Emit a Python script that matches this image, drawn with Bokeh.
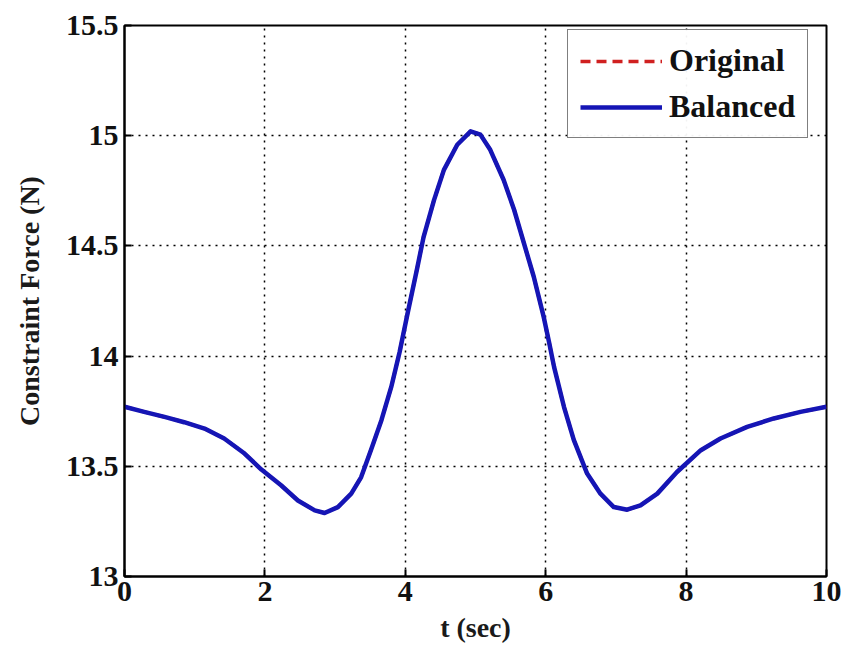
from bokeh.plotting import figure
from bokeh.models import Range1d, FixedTicker, Legend, LegendItem
from bokeh.embed import file_html
from bokeh.resources import INLINE

t = [0, 0.28, 0.57, 0.85, 1.14, 1.42, 1.71, 1.95, 2.23, 2.47, 2.71, 2.85, 3.04,
     3.23, 3.37, 3.51, 3.66, 3.80, 3.92, 4.03, 4.17, 4.26, 4.41, 4.55, 4.74, 4.93,
     5.07, 5.21, 5.40, 5.55, 5.69, 5.83, 5.97, 6.05, 6.12, 6.26, 6.40, 6.59, 6.78,
     6.97, 7.16, 7.35, 7.59, 7.87, 8.21, 8.49, 8.87, 9.25, 9.63, 10]
original = [13.770, 13.747, 13.724, 13.700, 13.671, 13.626, 13.558, 13.485, 13.414,
            13.345, 13.300, 13.288, 13.315, 13.376, 13.450, 13.573, 13.709, 13.860,
            14.020, 14.190, 14.400, 14.540, 14.709, 14.845, 14.959, 15.020, 15.005,
            14.936, 14.800, 14.664, 14.512, 14.360, 14.180, 14.060, 13.950, 13.770,
            13.620, 13.467, 13.376, 13.315, 13.303, 13.323, 13.376, 13.474, 13.573,
            13.626, 13.679, 13.717, 13.747, 13.770]
balanced = list(original)

x_ticks = [0, 2, 4, 6, 8, 10]
y_ticks = [13, 13.5, 14, 14.5, 15, 15.5]
y_tick_labels = ["13", "13.5", "14", "14.5", "15", "15.5"]

FONT = "Liberation Serif"

p = figure(width=850, height=659, output_backend="svg", toolbar_location=None,
           x_range=Range1d(0, 10), y_range=Range1d(13, 15.5),
           min_border_left=124, min_border_right=24, min_border_top=25,
           min_border_bottom=83)
p.background_fill_color = "white"
p.border_fill_color = "white"
p.outline_line_color = "black"
p.outline_line_width = 2

r1 = p.line(t, original, line_color="#D02020", line_width=3.5, line_dash="10 6")
r2 = p.line(t, balanced, line_color="#1515B5", line_width=4.5, line_join="round")

for ax in (p.xaxis[0], p.yaxis[0]):
    ax.axis_line_color = "black"
    ax.axis_line_width = 2
    ax.major_tick_in = 7
    ax.major_tick_out = 0
    ax.minor_tick_in = 0
    ax.minor_tick_out = 0
    ax.major_tick_line_width = 2
    ax.major_label_text_font = FONT
    ax.major_label_text_font_style = "bold"
    ax.major_label_text_font_size = "30px"
    ax.major_label_text_color = "#111111"
    ax.axis_label_text_font = FONT
    ax.axis_label_text_font_style = "bold"
    ax.axis_label_text_color = "#1a1a1a"

p.xaxis[0].axis_label_text_font_size = "28px"
p.yaxis[0].axis_label_text_font_size = "28px"
p.xaxis[0].ticker = FixedTicker(ticks=x_ticks)
p.yaxis[0].ticker = FixedTicker(ticks=y_ticks)
p.yaxis[0].major_label_overrides = {v: s for v, s in zip(y_ticks, y_tick_labels)}
p.xaxis[0].axis_label = "t (sec)"
p.yaxis[0].axis_label = "Constraint Force (N)"
p.xaxis[0].major_label_standoff = 5
p.yaxis[0].major_label_standoff = 6
p.xaxis[0].axis_label_standoff = 8
p.yaxis[0].axis_label_standoff = 18

p.xgrid.ticker = FixedTicker(ticks=x_ticks)
p.ygrid.ticker = FixedTicker(ticks=y_ticks)
for g in (p.xgrid[0], p.ygrid[0]):
    g.grid_line_color = "black"
    g.grid_line_dash = "2 5"
    g.grid_line_width = 1.5

legend = Legend(items=[LegendItem(label="Original", renderers=[r1]),
                       LegendItem(label="Balanced", renderers=[r2])],
                location=(443, 438))
legend.label_text_font = FONT
legend.label_text_font_style = "bold"
legend.label_text_font_size = "32px"
legend.label_text_color = "#111111"
legend.border_line_color = "black"
legend.border_line_width = 1.5
legend.padding = 12
legend.spacing = 9
legend.label_height = 36
legend.glyph_height = 36
legend.glyph_width = 82
legend.label_standoff = 7
legend.margin = 0
legend.background_fill_color = "white"
p.add_layout(legend, "center")

open("out.html", "w").write(file_html(p, INLINE))
